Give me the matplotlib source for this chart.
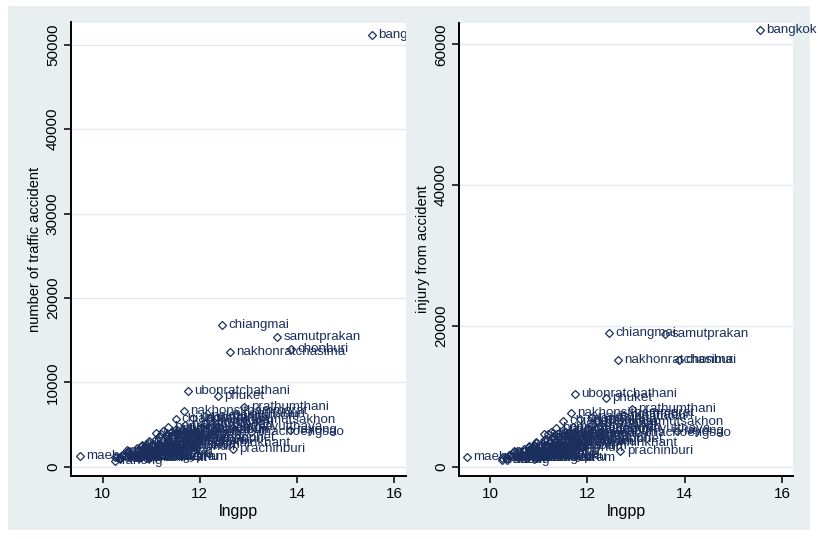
import numpy as np
import matplotlib
matplotlib.use("Agg")
import matplotlib.pyplot as plt
from matplotlib.patches import Rectangle

plt.rcParams['font.family'] = ['Liberation Sans', 'DejaVu Sans']

# DATA ---------------------------------------------------------------------------------------------
provinces = [
    "bangkok", "samutprakan", "nonthaburi", "prathumthani", "ayutthaya",
    "angthong", "lopburi", "singburi", "chainat", "saraburi",
    "chonburi", "rayong", "chanthaburi", "trat", "chachoengsao",
    "prachinburi", "nakhonnayok", "sakaeo", "nakhonratchasima", "buriram",
    "surin", "sisaket", "ubonratchathani", "yasothon", "chaiyaphum",
    "amnatcharoen", "nongbualamphu", "khonkaen", "udonthani", "loei",
    "nongkhai", "mahasarakham", "roiet", "kalasin", "sakonnakhon",
    "nakhonphanom", "mukdahan", "chiangmai", "lamphun", "lampang",
    "uttaradit", "phrae", "nan", "phayao", "chiangrai",
    "maehongson", "nakhonsawan", "uthaithani", "kamphaengphet", "tak",
    "sukhothai", "phitsanulok", "phichit", "phetchabun", "ratchaburi",
    "kanchanaburi", "suphanburi", "nakhonpathom", "samutsakhon", "samutsongkhram",
    "phetchaburi", "prachuapkhirikhant", "nakhonsithammarat", "krabi", "phangnga",
    "phuket", "suratthani", "ranong", "chumphon", "songkhla",
    "satun", "trang", "phatthalung", "pattani", "yala",
    "narathiwat",
]

lngpp = [
    15.55, 13.60, 12.75, 12.92, 13.20,
    10.55, 11.40, 10.40, 10.60, 12.30,
    13.88, 13.85, 11.75, 10.85, 13.05,
    12.68, 10.45, 10.95, 12.62, 11.35,
    11.20, 11.15, 11.75, 10.55, 11.10,
    10.25, 10.30, 12.20, 11.85, 10.90,
    10.80, 10.95, 11.25, 10.95, 11.10,
    10.80, 10.40, 12.45, 11.55, 11.35,
    10.85, 10.55, 10.50, 10.50, 11.50,
    9.53, 11.70, 10.35, 11.45, 10.90,
    10.70, 11.50, 10.85, 11.30, 12.00,
    11.65, 11.50, 12.10, 13.05, 10.35,
    11.35, 11.40, 11.67, 11.30, 10.90,
    12.38, 12.10, 10.25, 11.15, 12.20,
    10.35, 11.20, 10.70, 10.80, 10.75,
    10.75,
]

accidents = [
    51200, 15400, 6300, 7050, 4700,
    1700, 3600, 1400, 1900, 4300,
    13900, 4400, 3300, 1600, 4100,
    2050, 1300, 2100, 13600, 4700,
    3900, 3500, 9000, 1500, 3300,
    1100, 1200, 5400, 5800, 2700,
    2400, 3000, 4200, 2800, 4000,
    2600, 1300, 16800, 2300, 3700,
    2200, 1900, 2000, 1800, 5600,
    1250, 4900, 1000, 3400, 2500,
    2200, 4500, 2300, 3800, 4600,
    4300, 4100, 6000, 5500, 1100,
    3100, 2800, 6550, 2600, 1500,
    8400, 5200, 700, 2500, 5800,
    900, 2600, 1900, 1300, 1100,
    1000,
]

injuries = [
    62000, 18900, 7300, 8250, 5400,
    2000, 4200, 1700, 2200, 5100,
    15200, 5100, 3900, 1900, 4800,
    2200, 1500, 2500, 15100, 5500,
    4600, 4000, 10300, 1700, 3800,
    1300, 1400, 6300, 6800, 3100,
    2800, 3500, 4900, 3300, 4600,
    3000, 1500, 19000, 2700, 4300,
    2600, 2200, 2300, 2100, 6500,
    1350, 5700, 1200, 4000, 2900,
    2500, 5200, 2700, 4400, 5300,
    5000, 4700, 7000, 6400, 1300,
    3600, 3300, 7600, 3000, 1700,
    9800, 6000, 900, 2900, 6700,
    1000, 3000, 2200, 1500, 1300,
    1200,
]

# STYLE --------------------------------------------------------------------------------------------
navy = '#1b2f5e'
panel_bg = '#e9eff1'
grid_col = '#e2e9ec'

fig = plt.figure(figsize=(8.18, 5.39), dpi=100, facecolor='white')
fig.patches.append(Rectangle((8 / 818, 9 / 539), 802 / 818, 524 / 539,
                             transform=fig.transFigure, facecolor=panel_bg,
                             edgecolor='none', zorder=-10))

ax1 = fig.add_axes([71 / 818, 63 / 539, 335 / 818, 453.5 / 539])
ax2 = fig.add_axes([459 / 818, 63 / 539, 334 / 818, 453.5 / 539])


def draw_panel(ax, yvals, ylabel, yticks, ylim, xlim, clip):
    ax.set_facecolor('white')
    ax.plot(lngpp, yvals, 'D', ms=4.0, mfc='none', mec=navy, mew=0.9, ls='none', zorder=3)
    for name, x, y in zip(provinces, lngpp, yvals):
        ax.annotate(name, (x, y), xytext=(4.5, 0), textcoords='offset points',
                    va='center', ha='left', fontsize=9.6, color=navy,
                    annotation_clip=False, clip_on=clip, zorder=4)
    ax.set_xlim(*xlim)
    ax.set_ylim(*ylim)
    ax.set_xticks([10, 12, 14, 16])
    ax.set_yticks(yticks)
    ax.set_yticklabels([str(v) for v in yticks], rotation=90, va='center')
    ax.grid(axis='y', color=grid_col, lw=1.0, zorder=0)
    ax.set_axisbelow(True)
    for s in ['top', 'right']:
        ax.spines[s].set_visible(False)
    for s in ['left', 'bottom']:
        ax.spines[s].set_linewidth(1.4)
        ax.spines[s].set_color('black')
    ax.tick_params(axis='both', length=5, width=1.1, labelsize=11, color='black', pad=3)
    ax.set_xlabel('lngpp', fontsize=11.5, labelpad=2)
    ax.set_ylabel(ylabel, fontsize=10.5, labelpad=3)


draw_panel(ax1, accidents, 'number of traffic accident',
           [0, 10000, 20000, 30000, 40000, 50000], (-1100, 52630), (9.347, 16.247), True)
draw_panel(ax2, injuries, 'injury from accident',
           [0, 20000, 40000, 60000], (-1320, 63100), (9.363, 16.226), False)

fig.savefig('out.png', dpi=100, facecolor='white')
